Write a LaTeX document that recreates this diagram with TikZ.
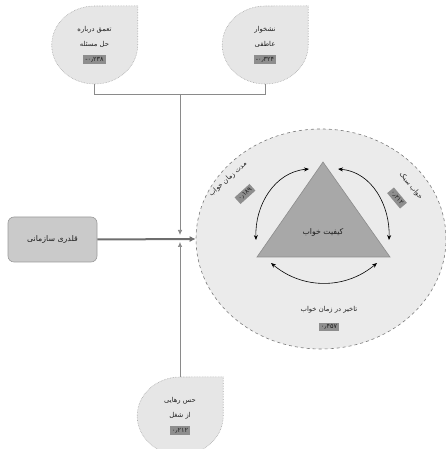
\documentclass[tikz,border=0pt]{standalone}
\usepackage{fontspec}
\newfontfamily\arabicfont[Script=Arabic]{DejaVu Sans}
\TeXXeTstate=1
\usetikzlibrary{arrows.meta,shapes.geometric,backgrounds}
\definecolor{dropgray}{HTML}{E6E6E6}
\definecolor{dropedge}{HTML}{A8A8A8}
\definecolor{ellgray}{HTML}{EBEBEB}
\definecolor{elledge}{HTML}{7A7A7A}
\definecolor{trigray}{HTML}{A8A8A8}
\definecolor{triedge}{HTML}{8C8C8C}
\definecolor{valgray}{HTML}{8E8E8E}
\definecolor{leadgray}{HTML}{CACACA}
\definecolor{leadedge}{HTML}{9A9A9A}
\definecolor{linegray}{HTML}{8A8A8A}
\definecolor{thickgray}{HTML}{6E6E6E}
\definecolor{inkgray}{HTML}{1E1E1E}
\setlength{\fboxsep}{2pt}
\tikzset{
  drop/.style={minimum width=86pt, minimum height=78pt, inner sep=0pt, align=center,
    text=inkgray, font=\arabicfont\fontsize{6.8}{15}\selectfont},
  dropline/.style={draw=dropedge, fill=dropgray, densely dotted, line width=0.6pt},
  valbox/.style={fill=valgray, inner sep=2pt, text=inkgray,
    font=\arabicfont\fontsize{6.5}{7}\selectfont},
  lbl/.style={inner sep=1pt, text=inkgray, font=\arabicfont\fontsize{6.8}{8}\selectfont},
  thinline/.style={draw=linegray, line width=0.7pt},
  tip/.style={-{Latex[length=5pt,width=4.5pt]}},
  leadline/.style={draw=thickgray, line width=2pt, -{Latex[length=6pt,width=6pt]}},
  curve/.style={line width=0.6pt, {Stealth[length=5pt,width=4pt]}-{Stealth[length=5pt,width=4pt]}}
}
\begin{document}
\begin{tikzpicture}[x=1pt,y=1pt]
  \useasboundingbox (0,0) rectangle (446,449);
  % outer circle and triangle
  \node[ellipse, draw=elledge, fill=ellgray, dashed, line width=0.6pt,
    minimum width=250pt, minimum height=220pt] (sleep) at (321,210) {};
  \filldraw[draw=triedge, fill=trigray, line width=0.6pt]
    (323,287) coordinate (apex) -- (257,192) coordinate (bl) -- (390,192) coordinate (br) -- cycle;
  \node[lbl, font=\arabicfont\fontsize{7.8}{9}\selectfont] (q) at (323,217) {\beginR کیفیت خواب\endR};
  % drops
  \draw
    (94.5,404) node[drop] (deep){\beginR تعمق درباره\endR\\\beginR حل مسئله\endR\\\colorbox{valgray}{\fontsize{6.5}{7}\selectfont\mbox{-}۰٫۲۳۸}}
    (265,404) node[drop] (rumin){\beginR نشخوار\endR\\\beginR عاطفی\endR\\\colorbox{valgray}{\fontsize{6.5}{7}\selectfont\mbox{-}۰٫۳۲۴}}
    (180,33) node[drop] (detach){\beginR حس رهایی\endR\\\beginR از شغل\endR\\\colorbox{valgray}{\fontsize{6.5}{7}\selectfont ۰٫۲۱۲}};
  \begin{scope}[on background layer]
    \filldraw[dropline] (deep.north east) -- (deep.east) arc[start angle=0, end angle=-270, x radius=43, y radius=39] -- cycle;
    \filldraw[dropline] (rumin.north east) -- (rumin.east) arc[start angle=0, end angle=-270, x radius=43, y radius=39] -- cycle;
    \filldraw[dropline] (detach.north east) -- (detach.east) arc[start angle=0, end angle=-270, x radius=43, y radius=39] -- cycle;
  \end{scope}
  % lead box
  \node[draw=leadedge, fill=leadgray, rounded corners=6pt, line width=0.6pt,
    minimum width=89pt, minimum height=45pt, text=inkgray,
    font=\arabicfont\fontsize{7.8}{9}\selectfont] (bully) at (52.5,209.5) {\beginR قلدری سازمانی\endR};
  % connectors
  \coordinate (j) at (180,355);
  \coordinate (dn) at (180,214);
  \coordinate (up) at (180,207);
  \begin{scope}[thinline]
    \draw (deep.south) |- (j);
    \draw (rumin.south) |- (j);
    \draw[tip] (j) to (dn);
    \draw[tip] (detach.north) to (up);
  \end{scope}
  \draw[leadline] (bully.east) to (sleep.west);
  % arcs round the triangle
  \coordinate (la) at (309,280);
  \coordinate (lb) at (256,209);
  \coordinate (ra) at (338,280);
  \coordinate (rb) at (389,209);
  \coordinate (ba) at (271,186);
  \coordinate (bb) at (377,186);
  \draw[curve] (lb) to[out=92, in=185] (la);
  \draw[curve] (ra) to[out=-5, in=88] (rb);
  \draw[curve] (ba) to[out=-40, in=-140] (bb);
  % labels
  \node[lbl, rotate=42] (dur) at (228,270) {\beginR مدت زمان خواب\endR};
  \node[valbox, rotate=42] (durv) at (245,255) {۰٫۱۸۹};
  \node[lbl, rotate=-50] (light) at (411,263) {\beginR خواب سبک\endR};
  \node[valbox, rotate=-50] (lightv) at (397,251) {۰٫۲۱۲};
  \node[lbl] (lat) at (329,139) {\beginR تاخیر در زمان خواب\endR};
  \node[valbox] (latv) at (329,122) {۰٫۴۵۷};
\end{tikzpicture}
\end{document}
